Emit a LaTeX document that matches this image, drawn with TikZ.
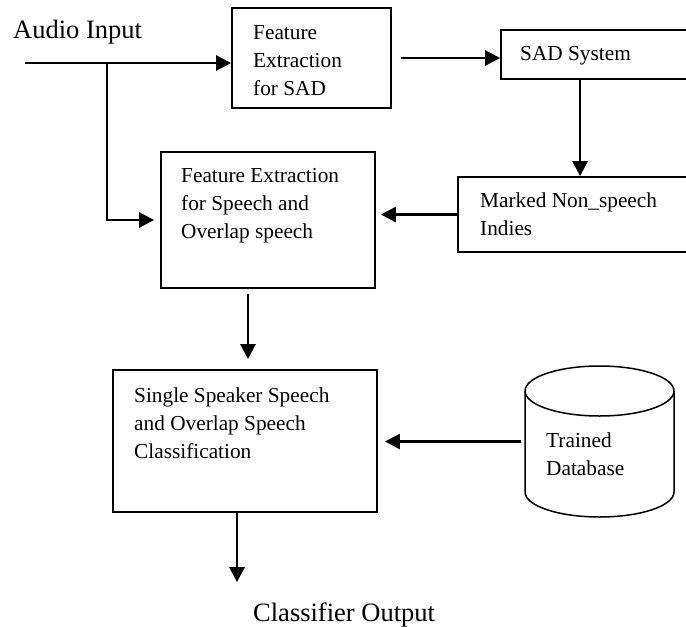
\documentclass[tikz,border=0pt]{standalone}
\usepackage{fontspec}
\setmainfont{Liberation Serif}
\usepackage{tikz}
\usetikzlibrary{positioning,arrows.meta,calc}

\newcommand{\bigtxt}{\fontsize{26.5}{32}\selectfont}
\newcommand{\boxtxt}{\fontsize{21.3}{28}\selectfont}

\begin{document}
\begin{tikzpicture}[x=1pt,y=-1pt,
    >={Triangle[length=15pt,width=15pt]},
    blk/.style={draw,line width=1.8pt,rectangle,inner sep=0pt},
    lbl/.style={anchor=base west,inner sep=0pt,align=left,font=\boxtxt},
    arr/.style={->,line width=2.7pt}]
  \useasboundingbox (0,0) rectangle (686,627);
  \clip (0,0) rectangle (686,627);

  % ブロック
  \node[blk,minimum width=159pt,minimum height=100pt] (fesad) at (311.5,58) {};
  \node[blk,minimum width=199pt,minimum height=49pt] (sad) at (600.5,54.5) {};
  \node[blk,minimum width=242pt,minimum height=75pt] (marked) at (579,214.5) {};
  \node[blk,minimum width=214pt,minimum height=136pt] (fesp) at (268,220) {};
  \node[blk,minimum width=264pt,minimum height=142pt] (ssc) at (245,441) {};

  % データベース（円柱）
  \node[minimum width=149pt,minimum height=153pt,inner sep=0pt] (db) at (599.5,441.5) {};
  \draw[line width=1.5pt] (525,391) -- (525,492)
    arc[start angle=180,end angle=0,x radius=74.5,y radius=25]
    -- (674,391)
    arc[start angle=0,end angle=-180,x radius=74.5,y radius=25] -- cycle;
  \draw[line width=1.5pt] (525,391)
    arc[start angle=180,end angle=0,x radius=74.5,y radius=25];

  % テキスト（複数行は最終行のベースライン）
  \node[lbl,font=\bigtxt] (inp) at (13,38) {Audio Input};
  \node[lbl] (fesadtxt) at (253,95) {Feature\\Extraction\\for SAD};
  \node[lbl] (sadtxt) at (520,60) {SAD System};
  \node[lbl] (markedtxt) at (480,235) {Marked Non\_speech\\Indies};
  \node[lbl] (fesptxt) at (181,238) {Feature Extraction\\for Speech and\\Overlap speech};
  \node[lbl] (ssctxt) at (134,458) {Single Speaker Speech\\and Overlap Speech\\Classification};
  \node[lbl] (dbtxt) at (546,475) {Trained\\Database};
  \node[lbl,font=\bigtxt] (out) at (253,621) {Classifier Output};

  % 矢印
  \coordinate (in) at (25,63);
  \coordinate (split) at (107,63);
  \draw[arr] (in) -- (in -| fesad.west);
  \draw[arr] (split) |- ([xshift=-6pt]fesp.west);
  \draw[arr] ([xshift=9pt]fesad.east) -- (fesad.east -| sad.west);
  \coordinate (sadout) at ([xshift=80pt]sad.south west);
  \draw[arr] (sadout) -- (sadout |- marked.north);
  \draw[arr] (marked.west) -- ([xshift=5pt]fesp.east |- marked.west);
  \coordinate (fespout) at ([xshift=-20pt]fesp.south);
  \draw[arr] ([yshift=-5pt]fespout) -- ([yshift=10pt]fespout |- ssc.north);
  \draw[arr] ([xshift=-4pt]db.west) -- ([xshift=7pt]ssc.east |- db.west);
  \coordinate (sscout) at ([xshift=-8pt]ssc.south);
  \draw[arr] (sscout) -- ([yshift=20pt]sscout |- out.north);
\end{tikzpicture}
\end{document}
